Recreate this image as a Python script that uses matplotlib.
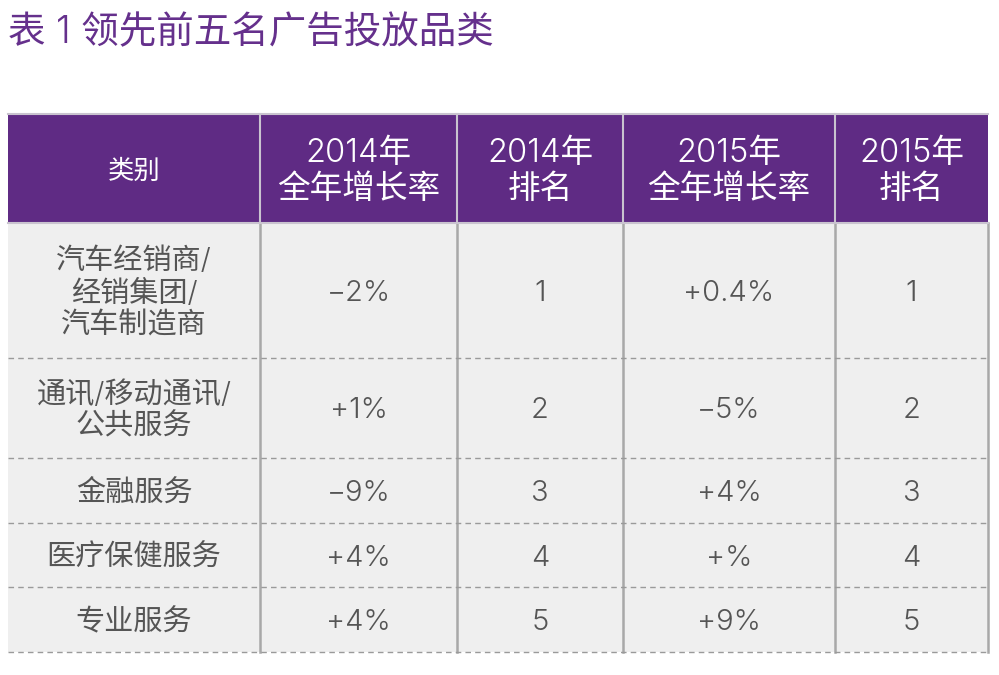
import matplotlib.pyplot as plt
from matplotlib.patches import Rectangle

plt.rcParams['font.family'] = ['Inter', 'Noto Sans CJK SC', 'DejaVu Sans']
plt.rcParams['font.weight'] = 300

# 数据
title = '表 1 领先前五名广告投放品类'
headers = ['类别', '2014年\n全年增长率', '2014年\n排名', '2015年\n全年增长率', '2015年\n排名']
categories = ['汽车经销商/\n经销集团/\n汽车制造商', '通讯/移动通讯/\n公共服务', '金融服务',
              '医疗保健服务', '专业服务']
growth_2014 = ['−2%', '+1%', '−9%', '+4%', '+4%']
rank_2014 = [1, 2, 3, 4, 5]
growth_2015 = ['+0.4%', '−5%', '+4%', '+%', '+9%']
rank_2015 = [1, 2, 3, 4, 5]

# 布局 (像素)
col_edges = [8, 260, 457, 623, 835, 988]
row_edges = [223, 358, 458, 523, 587, 652]
head_top = 114

purple = '#5f2b84'
body_bg = '#efefef'
text_gray = '#555555'

fig = plt.figure(figsize=(9.99, 6.75), dpi=100)
ax = fig.add_axes([0, 0, 1, 1])
ax.set_xlim(0, 999)
ax.set_ylim(675, 0)
ax.axis('off')

ax.text(8, 33, title, fontsize=27, color='#65308c', va='center', ha='left')

# 表头
ax.add_patch(Rectangle((col_edges[0], head_top), col_edges[-1] - col_edges[0],
                       row_edges[0] - head_top, facecolor=purple, edgecolor='none'))
ax.plot([col_edges[0], col_edges[-1]], [head_top, head_top], color='#c9c3cf', lw=1.5)
for j, h in enumerate(headers):
    cx = (col_edges[j] + col_edges[j + 1]) / 2
    cy = (head_top + row_edges[0]) / 2 + 3
    fs = 19 if j == 0 else 23.5
    ax.text(cx, cy, h, fontsize=fs, color='white', ha='center', va='center',
            linespacing=1.22)

# 表体
ax.add_patch(Rectangle((col_edges[0], row_edges[0]), col_edges[-1] - col_edges[0],
                       row_edges[-1] - row_edges[0], facecolor=body_bg, edgecolor='none'))

columns = [categories, growth_2014, rank_2014, growth_2015, rank_2015]
for i in range(len(categories)):
    cy = (row_edges[i] + row_edges[i + 1]) / 2 + 3
    for j, col in enumerate(columns):
        cx = (col_edges[j] + col_edges[j + 1]) / 2
        ax.text(cx, cy, str(col[i]), fontsize=21, color=text_gray, ha='center', va='center',
                linespacing=1.2)

# 竖线
for x in col_edges[1:-1]:
    ax.plot([x, x], [head_top, row_edges[0]], color='#c9c3cf', lw=1.5)
    ax.plot([x, x], [row_edges[0], row_edges[-1]], color='#a8a8a8', lw=1.8)
ax.plot([col_edges[-1]] * 2, [row_edges[0], row_edges[-1]], color='#a8a8a8', lw=1.8)
ax.plot([col_edges[0], col_edges[-1]], [row_edges[0], row_edges[0]], color='#c9c3cf', lw=1.5)

# 虚线
for y in row_edges[1:]:
    ax.plot([col_edges[0], col_edges[-1]], [y, y], color='#9a9a9a', lw=1,
            linestyle=(0, (4, 3)))

fig.savefig('out.png', dpi=100)
